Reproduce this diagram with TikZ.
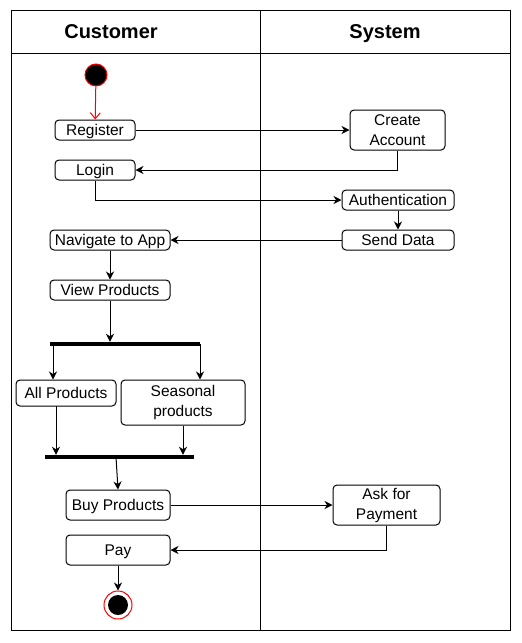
\documentclass[tikz,border=0pt]{standalone}
\usepackage{fontspec}
\setmainfont{Liberation Sans}
\usetikzlibrary{arrows.meta}
\begin{document}
\begin{tikzpicture}[x=1pt,y=-1pt,
  act/.style={draw,rounded corners=4pt,line width=1pt,inner sep=0pt,font=\fontsize{15.5}{20}\selectfont,align=center},
  one/.style={text height=11pt,text depth=0pt},
  flow/.style={line width=1pt,-{Stealth[length=8pt,width=8pt,inset=2.5pt]}},
  bar/.style={fill=black,inner sep=0pt,minimum height=4pt},
  head/.style={font=\bfseries\fontsize{20}{22}\selectfont,anchor=base}]
\useasboundingbox (0,0) rectangle (522,643);
% frame
\draw[line width=1pt] (11,10) rectangle (510,630);
\draw[line width=1pt] (260,10) -- (260,630);
\draw[line width=1pt] (11,53) -- (510,53);
\node[head] (hc) at (111,38) {Customer};
\node[head] (hs) at (385,38) {System};
% start
\node[circle,fill=black,draw=red,line width=1pt,minimum size=22pt,inner sep=0pt] (start) at (96,75) {};
% activities
\node[act,one,minimum width=80pt,minimum height=20pt] (reg) at (95,130) {Register};
\node[act,minimum width=95pt,minimum height=40pt] (acc) at (397.5,130) {Create\\Account};
\node[act,one,minimum width=80pt,minimum height=20pt] (login) at (95,170) {Login};
\node[act,one,minimum width=112pt,minimum height=20pt] (auth) at (398,200) {Authentication};
\node[act,one,minimum width=112pt,minimum height=20pt] (send) at (398,240) {Send Data};
\node[act,one,minimum width=120pt,minimum height=20pt] (nav) at (110,240) {Navigate to App};
\node[act,one,minimum width=120pt,minimum height=20pt] (view) at (110,290) {View Products};
\node[bar,minimum width=150pt] (fork) at (125,344) {};
\node[act,one,minimum width=100pt,minimum height=26pt] (all) at (66,393) {All Products};
\node[act,minimum width=124pt,minimum height=45pt] (seas) at (183,402.5) {Seasonal\\products};
\node[bar,minimum width=149pt] (join) at (119.5,457) {};
\node[act,one,minimum width=104pt,minimum height=30pt] (buy) at (118,505) {Buy Products};
\node[act,minimum width=107pt,minimum height=40pt] (ask) at (386.5,505) {Ask for\\Payment};
\node[act,one,minimum width=104pt,minimum height=30pt] (pay) at (118,550) {Pay};
\node[circle,draw=red,fill=white,line width=1pt,minimum size=28pt,inner sep=0pt] (endo) at (118,605) {};
\node[circle,fill=black,minimum size=20pt,inner sep=0pt] (endi) at (118,605) {};
% connectors
\draw[red,line width=1pt,-{Straight Barb[length=6pt,width=10pt]}] (start) -- (reg);
\draw[flow] (reg) -- (acc.west |- reg);
\draw[flow] (acc.south) |- (login.east);
\draw[flow] (login.south) |- (auth.west);
\draw[flow] (auth) -- (send);
\draw[flow] (send.west) -- (nav.east);
\draw[flow] (nav) -- (view);
\draw[flow] (view.south) -- (view.south |- fork.north);
\coordinate (f1) at (53,344);
\coordinate (f2) at (200,344);
\draw[flow] (f1) -- (f1 |- all.north);
\draw[flow] (f2) -- (f2 |- seas.north);
\coordinate (a1) at (56,406);
\draw[flow] (a1) -- (a1 |- join.north);
\draw[flow] (seas.south) -- (seas.south |- join.north);
\coordinate (j1) at (116,457);
\draw[flow] (j1) -- (buy.north);
\draw[flow] (buy.east) -- (ask.west);
\draw[flow] (ask.south) |- (pay.east);
\draw[flow] (pay.south) -- (endo.north);
\end{tikzpicture}
\end{document}
